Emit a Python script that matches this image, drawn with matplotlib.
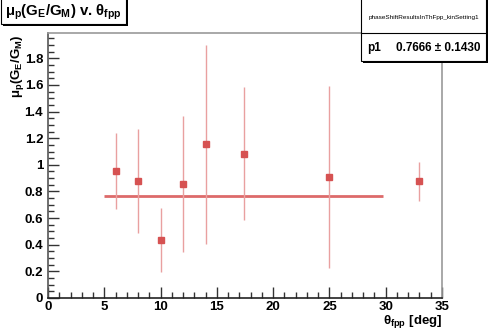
"""Recreate the ROOT-style muGE/GM vs theta_fpp plot."""

import matplotlib

matplotlib.use("Agg")
import matplotlib.pyplot as plt
from matplotlib.patches import Rectangle
from matplotlib.ticker import MultipleLocator

# data
theta_fpp = [6, 8, 10, 12, 14, 17.4, 25, 33]
ratio = [0.955, 0.88, 0.437, 0.855, 1.153, 1.083, 0.91, 0.875]
ratio_err = [0.285, 0.39, 0.24, 0.51, 0.745, 0.5, 0.685, 0.15]
fit_p1 = 0.7666
fit_p1_err = 0.1430
fit_range = [5, 29.8]

W, H = 491, 333
plt.rcParams["font.family"] = ["Liberation Sans", "DejaVu Sans"]
plt.rcParams["font.weight"] = "bold"
plt.rcParams["mathtext.fontset"] = "custom"
plt.rcParams["mathtext.rm"] = "Liberation Sans:bold"
plt.rcParams["mathtext.it"] = "Liberation Sans:bold"
plt.rcParams["mathtext.bf"] = "Liberation Sans:bold"

fig = plt.figure(figsize=(W / 100, H / 100), dpi=100)
ax = fig.add_axes([48 / W, 1 - 298 / H, (442 - 48) / W, (298 - 33) / H])

red = "#d65252"
ax.errorbar(theta_fpp, ratio, yerr=ratio_err, fmt="s", color=red, ecolor="#e9a0a0",
            elinewidth=1.0, markersize=4.5, capsize=0, zorder=3)
ax.plot(fit_range, [fit_p1, fit_p1], color="#dd6a6a", linewidth=2.0,
        solid_capstyle="butt", zorder=2)

ax.set_xlim(0, 35)
ax.set_ylim(0, 1.99)
ax.xaxis.set_major_locator(MultipleLocator(5))
ax.xaxis.set_minor_locator(MultipleLocator(1))
ax.yaxis.set_major_locator(MultipleLocator(0.2))
ax.yaxis.set_minor_locator(MultipleLocator(0.05))
ax.tick_params(which="both", direction="in", top=False, right=False, colors="#333333",
               labelcolor="black", labelsize=9.5)
ax.tick_params(which="major", length=8, width=1)
ax.tick_params(which="minor", length=4, width=1)
ax.tick_params(axis="x", pad=2)
ax.set_yticks([0.2 * i for i in range(10)])
ax.set_yticklabels(["0", "0.2", "0.4", "0.6", "0.8", "1", "1.2", "1.4", "1.6", "1.8"])
for lab in ax.get_xticklabels() + ax.get_yticklabels():
    lab.set_fontweight("bold")
ax.spines["left"].set_color("#555555")
ax.spines["bottom"].set_color("#222222")
ax.spines["top"].set_color("#999999")
ax.spines["right"].set_color("#999999")
for s in ax.spines.values():
    s.set_linewidth(1.2)

fig.text(17 / W, 1 - 35 / H, r"$μ_p(G_E/G_M)$", rotation=90, ha="center", va="top",
         fontsize=9.5)
fig.text(442 / W, 1 - 322 / H, r"$θ_{fpp}$ [deg]", ha="right", va="center",
         fontsize=9.5, fontweight="bold")


def root_box(x0, y0, x1, y1):
    """White box with ROOT-like shadow, pixel coords from top-left."""
    fig.patches.append(Rectangle((x0 / W + 2 / W, 1 - (y1 + 2) / H), (x1 - x0) / W,
                                 (y1 - y0) / H, transform=fig.transFigure,
                                 facecolor="black", edgecolor="none", zorder=4))
    fig.patches.append(Rectangle((x0 / W, 1 - y1 / H), (x1 - x0) / W, (y1 - y0) / H,
                                 transform=fig.transFigure, facecolor="white",
                                 edgecolor="black", linewidth=0.8, zorder=5))


# title box
root_box(1, -2, 126, 24)
fig.text(5 / W, 1 - 12 / H, r"$μ_p(G_E/G_M)$ v. $θ_{fpp}$", ha="left", va="center",
         fontsize=10.8, fontweight="bold", zorder=6)

# stats box
root_box(361, -2, 486, 61)
fig.lines.append(plt.Line2D([361 / W, 486 / W], [1 - 33 / H, 1 - 33 / H],
                            transform=fig.transFigure, color="black", linewidth=0.8,
                            zorder=6))
fig.text(423.5 / W, 1 - 18 / H, "phaseShiftResultsInThFpp_kinSetting1", ha="center",
         va="center", fontsize=4.6, fontweight="normal", zorder=6)
fig.text(367 / W, 1 - 48 / H, "p1", ha="left", va="center", fontsize=8.5,
         fontweight="bold", zorder=6)
fig.text(481 / W, 1 - 48 / H, f"{fit_p1:.4f} ± {fit_p1_err:.4f}", ha="right",
         va="center", fontsize=8.5, fontweight="bold", zorder=6)

fig.savefig("out.png", dpi=100)
